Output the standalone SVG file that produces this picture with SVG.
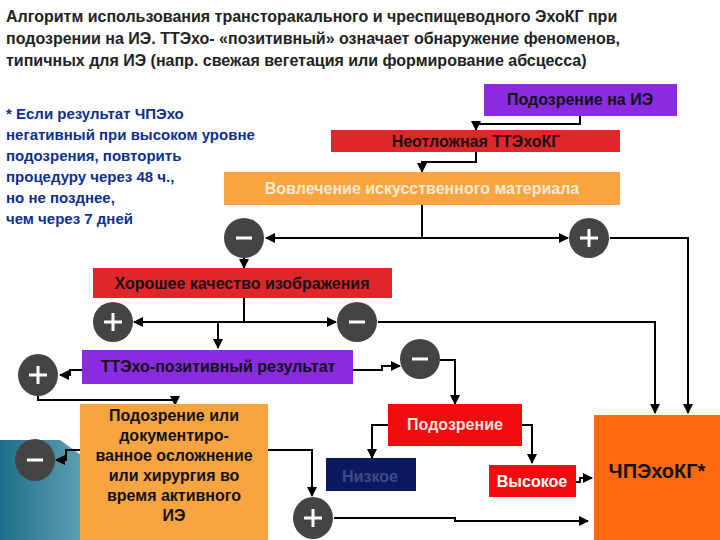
<svg xmlns="http://www.w3.org/2000/svg" width="720" height="540" viewBox="0 0 720 540">
<defs>
<linearGradient id="tg" x1="0" y1="0" x2="1" y2="0"><stop offset="0" stop-color="#1d6f8a"/><stop offset="1" stop-color="#bfe3ee"/></linearGradient>
<marker id="a" viewBox="0 0 10 10" refX="9" refY="5" markerWidth="5" markerHeight="5" orient="auto"><path d="M0,0L10,5L0,10z" fill="#000"/></marker>
<style>
text{font-family:"Liberation Sans Narrow","Liberation Sans",sans-serif;font-weight:bold}
.t{font-size:16px;fill:#222}
.n{font-size:15px;fill:#0d2f8f}
.c{fill:#444}
.s{fill:none;stroke:#fff;stroke-width:3}
.l{fill:none;stroke:#000;stroke-width:2;marker-end:url(#a)}
.p{fill:none;stroke:#000;stroke-width:2}
.b{font-size:16px;text-anchor:middle}
</style>
</defs>
<rect width="720" height="540" fill="#fff"/>
<polygon points="0,440 60,440 200,540 0,540" fill="url(#tg)"/>
<polygon points="120,510 200,540 110,540" fill="#000"/>
<text class="t" x="6" y="22">Алгоритм использования трансторакального и чреспищеводного ЭхоКГ при</text>
<text class="t" x="6" y="44">подозрении на ИЭ. ТТЭхо- «позитивный» означает обнаружение феноменов,</text>
<text class="t" x="6" y="66">типичных для ИЭ (напр. свежая вегетация  или  формирование абсцесса)</text>
<g id="note" class="n">
<text x="6" y="119">* Если результат ЧПЭхо</text>
<text x="6" y="140">негативный при высоком уровне</text>
<text x="6" y="161">подозрения, повторить</text>
<text x="6" y="182">процедуру через 48 ч.,</text>
<text x="6" y="203">но не позднее,</text>
<text x="6" y="224">чем через 7 дней</text>
</g>
<g id="connectors">
<polyline class="l" points="580,116 580,124 476,124 476,130"/>
<polyline class="l" points="476,150 476,162 422,162 422,172"/>
<polyline class="p" points="422,205 422,238"/>
<line class="l" x1="422" y1="238" x2="266" y2="238"/>
<line class="l" x1="422" y1="238" x2="568" y2="238"/>
<polyline class="l" points="610,238 688,238 688,413"/>
<line class="l" x1="244" y1="257" x2="244" y2="268"/>
<polyline class="p" points="244,298 244,322"/>
<line class="l" x1="244" y1="322" x2="134" y2="322"/>
<line class="l" x1="244" y1="322" x2="336" y2="322"/>
<polyline class="l" points="378,322 655,322 655,413"/>
<line class="l" x1="218" y1="322" x2="218" y2="348"/>
<polyline class="l" points="82,370 70,370 70,375 60,375"/>
<polyline class="l" points="38,396 38,400 175,400 175,405"/>
<polyline class="l" points="353,370 382,370 382,366 400,366"/>
<polyline class="l" points="440,360 455,360 455,404"/>
<polyline class="l" points="388,425 372,425 372,458"/>
<polyline class="l" points="522,425 532,425 532,463"/>
<polyline class="l" points="576,482 580,482 580,478 592,478"/>
<polyline class="l" points="267,450 312,450 312,496"/>
<polyline class="l" points="80,450 66,450 66,460 56,460"/>
<polyline class="l" points="334,518 455,518 455,521 588,521"/>
</g>
<g id="n1"><rect x="484" y="84" width="193" height="32" fill="#8a2be2"/><text class="b" x="580" y="105" fill="#111">Подозрение на ИЭ</text></g>
<g id="n2"><rect x="331" y="130" width="289" height="22" fill="#e0262b"/><text class="b" x="476" y="147" fill="#111">Неотложная ТТЭхоКГ</text></g>
<g id="n3"><rect x="224" y="172" width="396" height="33" fill="#f8a541"/><text class="b" x="422" y="194" fill="#fbe8d0">Вовлечение искусственного материала</text></g>
<g id="c1"><ellipse class="c" cx="244" cy="238" rx="20" ry="20"/><path class="s" d="M236,238h16"/></g>
<g id="c2"><ellipse class="c" cx="589" cy="238" rx="20" ry="20"/><path class="s" d="M580,238h18M589,229v18"/></g>
<g id="n4"><rect x="93" y="268" width="299" height="30" fill="#e0262b"/><text class="b" x="242" y="289" fill="#111">Хорошее качество изображения</text></g>
<g id="c3"><ellipse class="c" cx="113" cy="322" rx="20" ry="20"/><path class="s" d="M104,322h18M113,313v18"/></g>
<g id="c4"><ellipse class="c" cx="357" cy="322" rx="20" ry="20"/><path class="s" d="M349,322h16"/></g>
<g id="n5"><rect x="82" y="350" width="271" height="34" fill="#8a2be2"/><text class="b" x="218" y="372" fill="#111">ТТЭхо-позитивный результат</text></g>
<g id="c5"><ellipse class="c" cx="38" cy="375" rx="20" ry="21"/><path class="s" d="M29,375h18M38,366v18"/></g>
<g id="c6"><ellipse class="c" cx="420" cy="359" rx="20" ry="20"/><path class="s" d="M412,359h16"/></g>
<g id="n6"><rect x="388" y="404" width="134" height="42" fill="#f00c0c"/><text class="b" x="455" y="430" fill="#fde0e0">Подозрение</text></g>
<g id="n7"><rect x="326" y="458" width="90" height="33" fill="#0b1a5e"/><text class="b" x="370" y="482" fill="#3c4c8c">Низкое</text></g>
<g id="n8"><rect x="489" y="465" width="87" height="32" fill="#f00c0c"/><text class="b" x="532" y="487" fill="#fff">Высокое</text></g>
<g id="n9"><rect x="594" y="415" width="126" height="125" fill="#ff6a10"/><text class="b" x="657" y="478" fill="#111" style="font-size:20px">ЧПЭхоКГ*</text></g>
<g id="n10"><rect x="80" y="404" width="188" height="136" fill="#f8a541"/>
<text class="b" x="174" y="421" fill="#111"><tspan x="174">Подозрение  или</tspan><tspan x="174" dy="20">документиро-</tspan><tspan x="174" dy="20">ванное осложнение</tspan><tspan x="174" dy="20">или  хирургия во</tspan><tspan x="174" dy="20">время активного</tspan><tspan x="174" dy="20">ИЭ</tspan></text></g>
<g id="c7"><ellipse class="c" cx="35" cy="460" rx="20" ry="21"/><path class="s" d="M27,460h16"/></g>
<g id="c8"><ellipse class="c" cx="313" cy="518" rx="20" ry="21"/><path class="s" d="M304,518h18M313,509v18"/></g>
</svg>
